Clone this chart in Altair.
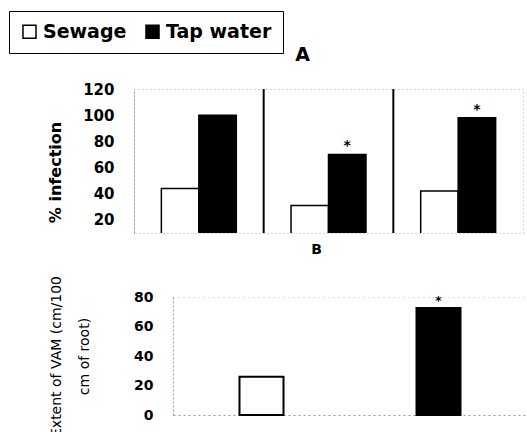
import altair as alt
import pandas as pd

groups = ["G1", "G2", "G3"]
treatments = ["Sewage", "Tap water"]
infection_sewage = [44, 31, 42]
infection_tap = [100, 70, 98]
infection_marks = ["", "*", "*"]
vam_values = [26, 72.5]
vam_marks = ["", "*"]
separators = ["G2", "G3"]
top_ticks = [20, 40, 60, 80, 100, 120]
bottom_ticks = [0, 20, 40, 60, 80]

top_rows = []
for g, s, t, m in zip(groups, infection_sewage, infection_tap, infection_marks):
    top_rows.append({"group": g, "treatment": "Sewage", "value": s, "mark": ""})
    top_rows.append({"group": g, "treatment": "Tap water", "value": t, "mark": m})
top_df = pd.DataFrame(top_rows)
sep_df = pd.DataFrame({"group": separators})
bottom_df = pd.DataFrame({"treatment": treatments, "value": vam_values, "mark": vam_marks})

FONT = "DejaVu Sans"

fill_enc = alt.Fill(
    "treatment:N",
    scale=alt.Scale(domain=treatments, range=["white", "black"]),
    legend=alt.Legend(
        title=None, orient="none", legendX=-125, legendY=-78,
        direction="horizontal", symbolType="square", symbolSize=170,
        symbolStrokeColor="black", symbolStrokeWidth=1.5,
        labelFont=FONT, labelFontSize=19, labelFontWeight="bold",
        labelColor="black", strokeColor="black", fillColor="white",
        padding=11, columnPadding=15, labelOffset=4, cornerRadius=0,
    ),
)

x_top = alt.X("group:N", sort=groups, axis=None,
              scale=alt.Scale(paddingInner=0, paddingOuter=0))
xo_top = alt.XOffset("treatment:N", sort=treatments,
                     scale=alt.Scale(paddingInner=0, paddingOuter=0.73))
y_top = alt.Y(
    "value:Q",
    scale=alt.Scale(domain=[10, 120]),
    axis=alt.Axis(
        values=top_ticks, title="% infection", ticks=False, labelOverlap=False,
        labelFont=FONT, labelFontSize=15, labelFontWeight="bold",
        labelColor="black", labelPadding=20,
        titleFont=FONT, titleFontSize=16, titleFontWeight="bold",
        titleColor="black", titlePadding=19, titleY=83,
        domainColor="#999", domainDash=[2, 2], grid=False,
    ),
)

top_bars = alt.Chart(top_df).mark_bar(stroke="black", strokeWidth=1.5, clip=True).encode(
    x=x_top, xOffset=xo_top, y=y_top, fill=fill_enc
)
top_text = alt.Chart(top_df).mark_text(
    fontSize=14, fontWeight="bold", dy=-8, font=FONT, color="black"
).encode(x=x_top, xOffset=xo_top, y=y_top, text="mark:N")
top_rules = alt.Chart(sep_df).mark_rule(color="black", strokeWidth=2).encode(
    x=alt.X("group:N", sort=groups, bandPosition=0, axis=None)
)

top = alt.layer(top_bars, top_rules, top_text).properties(
    width=389, height=144,
    title=alt.Title("A", font=FONT, fontSize=19, fontWeight="bold",
                    color="black", anchor="middle", dx=-26, offset=17),
)

x_scale_bot = alt.Scale(paddingInner=0, paddingOuter=0, range=[39, 393])
x_bot = alt.X("treatment:N", sort=treatments, scale=x_scale_bot, title=None,
              axis=alt.Axis(labels=False, ticks=False, domainColor="#999",
                            domainDash=[2, 3], orient="bottom"))
x_bot_top = alt.X("treatment:N", sort=treatments, scale=x_scale_bot, title=None,
                  axis=alt.Axis(labels=False, ticks=False, domainColor="#bbb",
                                domainDash=[1, 4], orient="top"))
y_bot = alt.Y(
    "value:Q",
    scale=alt.Scale(domain=[0, 80]),
    axis=alt.Axis(
        values=bottom_ticks, title=["Extent of VAM (cm/100", "cm of root)"],
        ticks=False, labelOverlap=False, offset=-39,
        labelFont=FONT, labelFontSize=14, labelFontWeight="bold",
        labelColor="black", labelPadding=20,
        titleFont=FONT, titleFontSize=14, titleFontWeight="normal",
        titleColor="black", titlePadding=42, titleLineHeight=28,
        domainColor="#999", domainDash=[2, 2], grid=False,
    ),
)
bot_bars = alt.Chart(bottom_df).mark_bar(size=44, stroke="black", strokeWidth=2).encode(
    x=x_bot, y=y_bot, fill=fill_enc
)
bot_text = alt.Chart(bottom_df).mark_text(
    fontSize=12, fontWeight="bold", dy=-7, font=FONT, color="black"
).encode(x=x_bot_top, y=y_bot, text="mark:N")

bottom = alt.layer(bot_bars, bot_text).resolve_axis(x="independent").properties(
    width=393, height=118,
    view=alt.ViewBackground(strokeOpacity=0),
    title=alt.Title("B", font=FONT, fontSize=14, fontWeight="bold",
                    color="black", anchor="middle", dx=-14, offset=18),
)

chart = alt.vconcat(top, bottom, spacing=8).properties(
    padding={"left": 8, "top": 10, "right": 0, "bottom": 0},
    background="white",
).configure_view(
    stroke="#aaa", strokeDash=[1, 3], strokeWidth=1
).configure_axis(labelOverlap=False)

chart.save("out.html", embed_options={"renderer": "svg", "actions": False})
